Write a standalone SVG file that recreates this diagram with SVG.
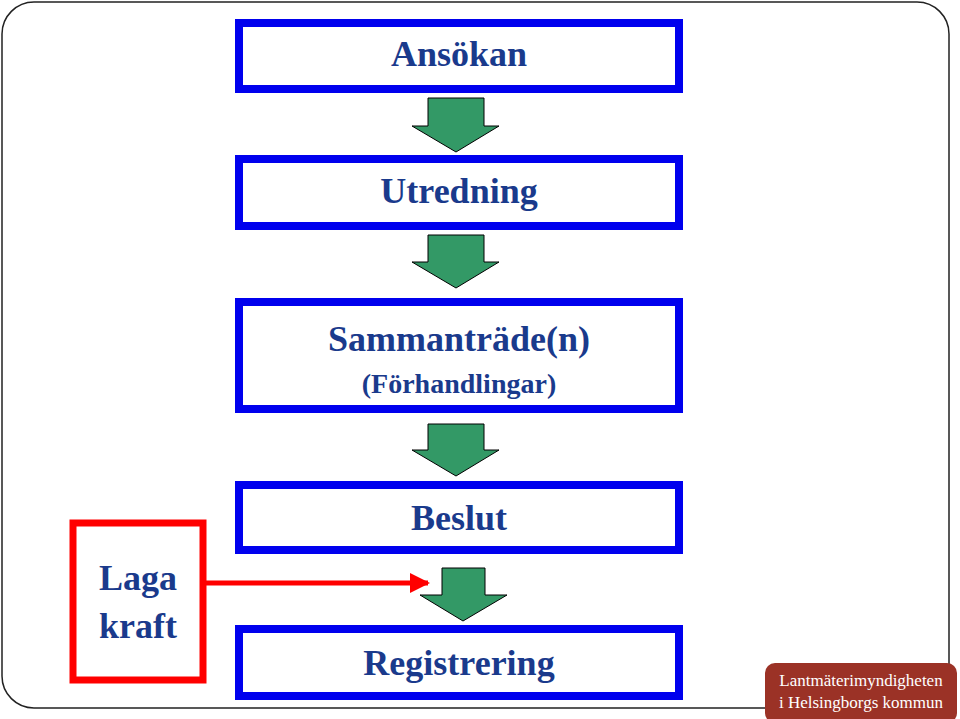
<svg xmlns="http://www.w3.org/2000/svg" width="960" height="719" viewBox="0 0 960 719">
<style>
.box{fill:#fff;stroke:#0000ee;stroke-width:8}
.t{font-family:"Liberation Serif",serif;font-weight:bold;fill:#1a3a8c;text-anchor:middle}
.ar{fill:#339966;stroke:#000;stroke-width:1}
</style>
<defs><marker id="rh" viewBox="0 0 10 10" refX="9" refY="5" markerWidth="4" markerHeight="4" orient="auto"><path d="M0,0L10,5L0,10z" fill="#ff0000"/></marker></defs>
<rect x="2" y="2" width="947" height="706" rx="32" fill="#fff" stroke="#222" stroke-width="1.5"/>
<g id="n1"><rect class="box" x="239" y="23" width="440" height="66"/><text class="t" x="459" y="66" font-size="36">Ansökan</text></g>
<g id="n2"><rect class="box" x="239" y="159" width="440" height="67"/><text class="t" x="459" y="203" font-size="36">Utredning</text></g>
<g id="n3"><rect class="box" x="239" y="302" width="440" height="107"/><text class="t" x="459" y="351" font-size="36">Sammanträde(n)</text><text class="t" x="459" y="393" font-size="28">(Förhandlingar)</text></g>
<g id="n4"><rect class="box" x="239" y="485" width="440" height="65"/><text class="t" x="459" y="530" font-size="36">Beslut</text></g>
<g id="n5"><rect class="box" x="239" y="629" width="440" height="67"/><text class="t" x="459" y="675" font-size="36">Registrering</text></g>
<g id="n6"><rect x="73" y="523" width="130" height="157" fill="#fff" stroke="#ff0000" stroke-width="7"/><text class="t" x="138" y="590" font-size="36">Laga</text><text class="t" x="138" y="638" font-size="36">kraft</text></g>
<g id="badge"><rect x="765" y="663" width="192" height="60" rx="10" fill="#9b3226"/><text x="861" y="686" font-family="Liberation Serif,serif" font-size="17" fill="#fff" text-anchor="middle">Lantmäterimyndigheten</text><text x="861" y="708" font-family="Liberation Serif,serif" font-size="17" fill="#fff" text-anchor="middle">i Helsingborgs kommun</text></g>
<g id="connectors">
<path class="ar" d="M428,98H484V126H499L456,152L412,126H428Z"/>
<path class="ar" d="M428,235H484V262H499L456,288L412,262H428Z"/>
<path class="ar" d="M428,424H484V450H499L456,476L412,450H428Z"/>
<path class="ar" d="M442,568H485V595H507L463,621L420,595H442Z"/>
<line x1="205" y1="583" x2="428" y2="583" stroke="#ff0000" stroke-width="5" marker-end="url(#rh)"/>
</g>
</svg>
